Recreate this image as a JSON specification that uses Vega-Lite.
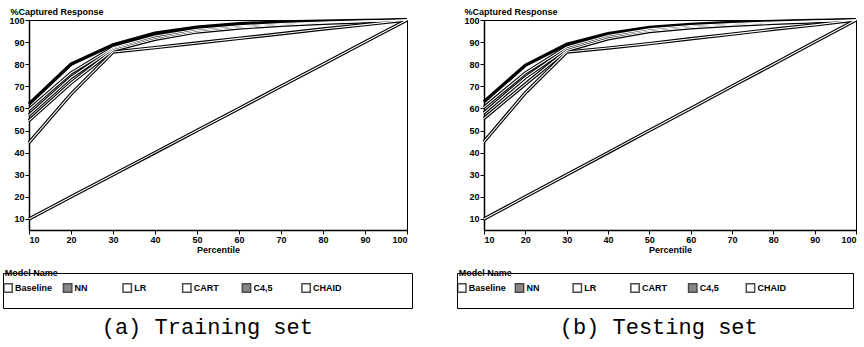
{
  "$schema": "https://vega.github.io/schema/vega-lite/v6.json",
  "background": "white",
  "padding": {"left": 0, "top": 6, "right": 0, "bottom": 5},
  "config": {
    "view": {"stroke": "black", "strokeWidth": 1},
    "font": "Liberation Sans",
    "axis": {
      "domainColor": "black", "domainWidth": 1.5, "tickColor": "black", "tickSize": 4,
      "labelColor": "black", "labelFont": "Liberation Sans", "labelFontSize": 9, "labelFontWeight": "bold", "labelPadding": 1,
      "titleColor": "black", "titleFont": "Liberation Sans", "titleFontSize": 9, "titleFontWeight": "bold", "grid": false
    },
    "title": {"color": "black"}
  },
  "datasets": {
    "models": [
      {"model": "Baseline"}, {"model": "NN"}, {"model": "LR"}, {"model": "CART"}, {"model": "C4,5"}, {"model": "CHAID"}
    ],
    "blank": [{"model": "none"}],
    "train": [
      {"model": "Baseline", "pct": 10, "cr": 10}, {"model": "Baseline", "pct": 20, "cr": 20}, {"model": "Baseline", "pct": 30, "cr": 30}, {"model": "Baseline", "pct": 40, "cr": 40}, {"model": "Baseline", "pct": 50, "cr": 50}, {"model": "Baseline", "pct": 60, "cr": 60}, {"model": "Baseline", "pct": 70, "cr": 70}, {"model": "Baseline", "pct": 80, "cr": 80}, {"model": "Baseline", "pct": 90, "cr": 90}, {"model": "Baseline", "pct": 100, "cr": 100},
      {"model": "CART", "pct": 10, "cr": 44.5}, {"model": "CART", "pct": 20, "cr": 66.5}, {"model": "CART", "pct": 30, "cr": 85.5}, {"model": "CART", "pct": 40, "cr": 87.5}, {"model": "CART", "pct": 50, "cr": 89.6}, {"model": "CART", "pct": 60, "cr": 91.7}, {"model": "CART", "pct": 70, "cr": 93.8}, {"model": "CART", "pct": 80, "cr": 95.9}, {"model": "CART", "pct": 90, "cr": 97.9}, {"model": "CART", "pct": 100, "cr": 100},
      {"model": "CHAID", "pct": 10, "cr": 54.5}, {"model": "CHAID", "pct": 20, "cr": 71.5}, {"model": "CHAID", "pct": 30, "cr": 86.3}, {"model": "CHAID", "pct": 40, "cr": 91.3}, {"model": "CHAID", "pct": 50, "cr": 94.6}, {"model": "CHAID", "pct": 60, "cr": 96.4}, {"model": "CHAID", "pct": 70, "cr": 97.6}, {"model": "CHAID", "pct": 80, "cr": 98.5}, {"model": "CHAID", "pct": 90, "cr": 99.2}, {"model": "CHAID", "pct": 100, "cr": 100},
      {"model": "LR", "pct": 10, "cr": 57}, {"model": "LR", "pct": 20, "cr": 74}, {"model": "LR", "pct": 30, "cr": 87}, {"model": "LR", "pct": 40, "cr": 92}, {"model": "LR", "pct": 50, "cr": 95.2}, {"model": "LR", "pct": 60, "cr": 96.9}, {"model": "LR", "pct": 70, "cr": 98}, {"model": "LR", "pct": 80, "cr": 98.8}, {"model": "LR", "pct": 90, "cr": 99.4}, {"model": "LR", "pct": 100, "cr": 100},
      {"model": "C4,5", "pct": 10, "cr": 59.5}, {"model": "C4,5", "pct": 20, "cr": 76}, {"model": "C4,5", "pct": 30, "cr": 87.5}, {"model": "C4,5", "pct": 40, "cr": 92.8}, {"model": "C4,5", "pct": 50, "cr": 95.8}, {"model": "C4,5", "pct": 60, "cr": 97.4}, {"model": "C4,5", "pct": 70, "cr": 98.4}, {"model": "C4,5", "pct": 80, "cr": 99.1}, {"model": "C4,5", "pct": 90, "cr": 99.6}, {"model": "C4,5", "pct": 100, "cr": 100},
      {"model": "NN", "pct": 10, "cr": 62}, {"model": "NN", "pct": 20, "cr": 80}, {"model": "NN", "pct": 30, "cr": 88.8}, {"model": "NN", "pct": 40, "cr": 94}, {"model": "NN", "pct": 50, "cr": 96.8}, {"model": "NN", "pct": 60, "cr": 98.3}, {"model": "NN", "pct": 70, "cr": 99.1}, {"model": "NN", "pct": 80, "cr": 99.5}, {"model": "NN", "pct": 90, "cr": 99.8}, {"model": "NN", "pct": 100, "cr": 100}
    ],
    "test": [
      {"model": "Baseline", "pct": 10, "cr": 10}, {"model": "Baseline", "pct": 20, "cr": 20}, {"model": "Baseline", "pct": 30, "cr": 30}, {"model": "Baseline", "pct": 40, "cr": 40}, {"model": "Baseline", "pct": 50, "cr": 50}, {"model": "Baseline", "pct": 60, "cr": 60}, {"model": "Baseline", "pct": 70, "cr": 70}, {"model": "Baseline", "pct": 80, "cr": 80}, {"model": "Baseline", "pct": 90, "cr": 90}, {"model": "Baseline", "pct": 100, "cr": 100},
      {"model": "CART", "pct": 10, "cr": 45}, {"model": "CART", "pct": 20, "cr": 67}, {"model": "CART", "pct": 30, "cr": 85.5}, {"model": "CART", "pct": 40, "cr": 87.3}, {"model": "CART", "pct": 50, "cr": 89.3}, {"model": "CART", "pct": 60, "cr": 91.5}, {"model": "CART", "pct": 70, "cr": 93.6}, {"model": "CART", "pct": 80, "cr": 95.8}, {"model": "CART", "pct": 90, "cr": 97.8}, {"model": "CART", "pct": 100, "cr": 100},
      {"model": "CHAID", "pct": 10, "cr": 55.5}, {"model": "CHAID", "pct": 20, "cr": 71}, {"model": "CHAID", "pct": 30, "cr": 86.2}, {"model": "CHAID", "pct": 40, "cr": 91.5}, {"model": "CHAID", "pct": 50, "cr": 94.8}, {"model": "CHAID", "pct": 60, "cr": 96.5}, {"model": "CHAID", "pct": 70, "cr": 97.6}, {"model": "CHAID", "pct": 80, "cr": 98.5}, {"model": "CHAID", "pct": 90, "cr": 99.2}, {"model": "CHAID", "pct": 100, "cr": 100},
      {"model": "LR", "pct": 10, "cr": 58}, {"model": "LR", "pct": 20, "cr": 74}, {"model": "LR", "pct": 30, "cr": 87}, {"model": "LR", "pct": 40, "cr": 92.3}, {"model": "LR", "pct": 50, "cr": 95.3}, {"model": "LR", "pct": 60, "cr": 97}, {"model": "LR", "pct": 70, "cr": 98}, {"model": "LR", "pct": 80, "cr": 98.8}, {"model": "LR", "pct": 90, "cr": 99.4}, {"model": "LR", "pct": 100, "cr": 100},
      {"model": "C4,5", "pct": 10, "cr": 60.5}, {"model": "C4,5", "pct": 20, "cr": 76}, {"model": "C4,5", "pct": 30, "cr": 87.8}, {"model": "C4,5", "pct": 40, "cr": 93}, {"model": "C4,5", "pct": 50, "cr": 96}, {"model": "C4,5", "pct": 60, "cr": 97.5}, {"model": "C4,5", "pct": 70, "cr": 98.4}, {"model": "C4,5", "pct": 80, "cr": 99.1}, {"model": "C4,5", "pct": 90, "cr": 99.6}, {"model": "C4,5", "pct": 100, "cr": 100},
      {"model": "NN", "pct": 10, "cr": 63}, {"model": "NN", "pct": 20, "cr": 79.5}, {"model": "NN", "pct": 30, "cr": 89}, {"model": "NN", "pct": 40, "cr": 93.8}, {"model": "NN", "pct": 50, "cr": 96.6}, {"model": "NN", "pct": 60, "cr": 98}, {"model": "NN", "pct": 70, "cr": 98.9}, {"model": "NN", "pct": 80, "cr": 99.4}, {"model": "NN", "pct": 90, "cr": 99.8}, {"model": "NN", "pct": 100, "cr": 100}
    ]
  },
  "spacing": 39,
  "hconcat": [
    {
      "title": {"text": "(a) Training set", "orient": "bottom", "anchor": "middle", "font": "Liberation Mono", "fontSize": 22, "fontWeight": "normal", "offset": 8},
      "spacing": 13,
      "vconcat": [
        {
          "spacing": 0,
          "hconcat": [
            {"width": 4, "height": 10, "data": {"name": "blank"}, "view": {"stroke": null, "fill": "white"}, "mark": {"type": "point", "opacity": 0}},
            {
              "width": 378,
              "height": 210,
              "data": {"name": "train"},
              "encoding": {
                "x": {"field": "pct", "type": "quantitative", "scale": {"domain": [10, 100], "nice": false},
                      "axis": {"values": [10, 20, 30, 40, 50, 60, 70, 80, 90, 100], "title": "Percentile", "titlePadding": 1}},
                "y": {"field": "cr", "type": "quantitative", "scale": {"domain": [5, 100], "nice": false},
                      "axis": {"values": [10, 20, 30, 40, 50, 60, 70, 80, 90, 100], "title": "%Captured Response", "titleAngle": 0, "titleAlign": "left", "titleBaseline": "bottom", "titleX": -19, "titleY": -4}},
                "detail": {"field": "model", "type": "nominal"}
              },
              "layer": [
                {"mark": {"type": "line", "stroke": "black", "strokeWidth": 3.4}},
                {"transform": [{"filter": "datum.model != 'NN'"}], "mark": {"type": "line", "stroke": "white", "strokeWidth": 1.1}}
              ]
            }
          ]
        },
        {
          "width": 409,
          "height": 35,
          "data": {"name": "models"},
          "title": {"text": "Model Name", "anchor": "start", "offset": -5, "fontSize": 9, "fontWeight": "bold", "font": "Liberation Sans", "dx": 4},
          "encoding": {
            "x": {"field": "model", "type": "nominal", "sort": null, "scale": {"type": "point", "padding": 0.93, "align": 0.045}, "axis": null}
          },
          "layer": [
            {"mark": {"type": "point", "shape": "square", "size": 70, "stroke": "black", "strokeWidth": 1.5, "filled": true, "yOffset": -2.5},
             "encoding": {"fill": {"field": "model", "type": "nominal", "legend": null, "scale": {"domain": ["Baseline", "NN", "LR", "CART", "C4,5", "CHAID"], "range": ["white", "#555555", "white", "white", "#555555", "white"]}}}},
            {"mark": {"type": "text", "align": "left", "dx": 7, "yOffset": -2.5, "fontSize": 9, "fontWeight": "bold", "fill": "black"},
             "encoding": {"text": {"field": "model", "type": "nominal"}}}
          ]
        }
      ]
    },
    {
      "title": {"text": "(b) Testing set", "orient": "bottom", "anchor": "middle", "font": "Liberation Mono", "fontSize": 22, "fontWeight": "normal", "offset": 8},
      "spacing": 13,
      "vconcat": [
        {
          "spacing": 0,
          "hconcat": [
            {"width": 5, "height": 10, "data": {"name": "blank"}, "view": {"stroke": null, "fill": "white"}, "mark": {"type": "point", "opacity": 0}},
            {
              "width": 372,
              "height": 210,
              "data": {"name": "test"},
              "encoding": {
                "x": {"field": "pct", "type": "quantitative", "scale": {"domain": [10, 100], "nice": false},
                      "axis": {"values": [10, 20, 30, 40, 50, 60, 70, 80, 90, 100], "title": "Percentile", "titlePadding": 1}},
                "y": {"field": "cr", "type": "quantitative", "scale": {"domain": [5, 100], "nice": false},
                      "axis": {"values": [10, 20, 30, 40, 50, 60, 70, 80, 90, 100], "title": "%Captured Response", "titleAngle": 0, "titleAlign": "left", "titleBaseline": "bottom", "titleX": -20, "titleY": -4}},
                "detail": {"field": "model", "type": "nominal"}
              },
              "layer": [
                {"mark": {"type": "line", "stroke": "black", "strokeWidth": 3.4}},
                {"transform": [{"filter": "datum.model != 'NN'"}], "mark": {"type": "line", "stroke": "white", "strokeWidth": 1.1}}
              ]
            }
          ]
        },
        {
          "width": 396,
          "height": 35,
          "data": {"name": "models"},
          "title": {"text": "Model Name", "anchor": "start", "offset": -5, "fontSize": 9, "fontWeight": "bold", "font": "Liberation Sans", "dx": 4},
          "encoding": {
            "x": {"field": "model", "type": "nominal", "sort": null, "scale": {"type": "point", "padding": 0.93, "align": 0.045}, "axis": null}
          },
          "layer": [
            {"mark": {"type": "point", "shape": "square", "size": 70, "stroke": "black", "strokeWidth": 1.5, "filled": true, "yOffset": -2.5},
             "encoding": {"fill": {"field": "model", "type": "nominal", "legend": null, "scale": {"domain": ["Baseline", "NN", "LR", "CART", "C4,5", "CHAID"], "range": ["white", "#555555", "white", "white", "#555555", "white"]}}}},
            {"mark": {"type": "text", "align": "left", "dx": 7, "yOffset": -2.5, "fontSize": 9, "fontWeight": "bold", "fill": "black"},
             "encoding": {"text": {"field": "model", "type": "nominal"}}}
          ]
        }
      ]
    }
  ]
}
